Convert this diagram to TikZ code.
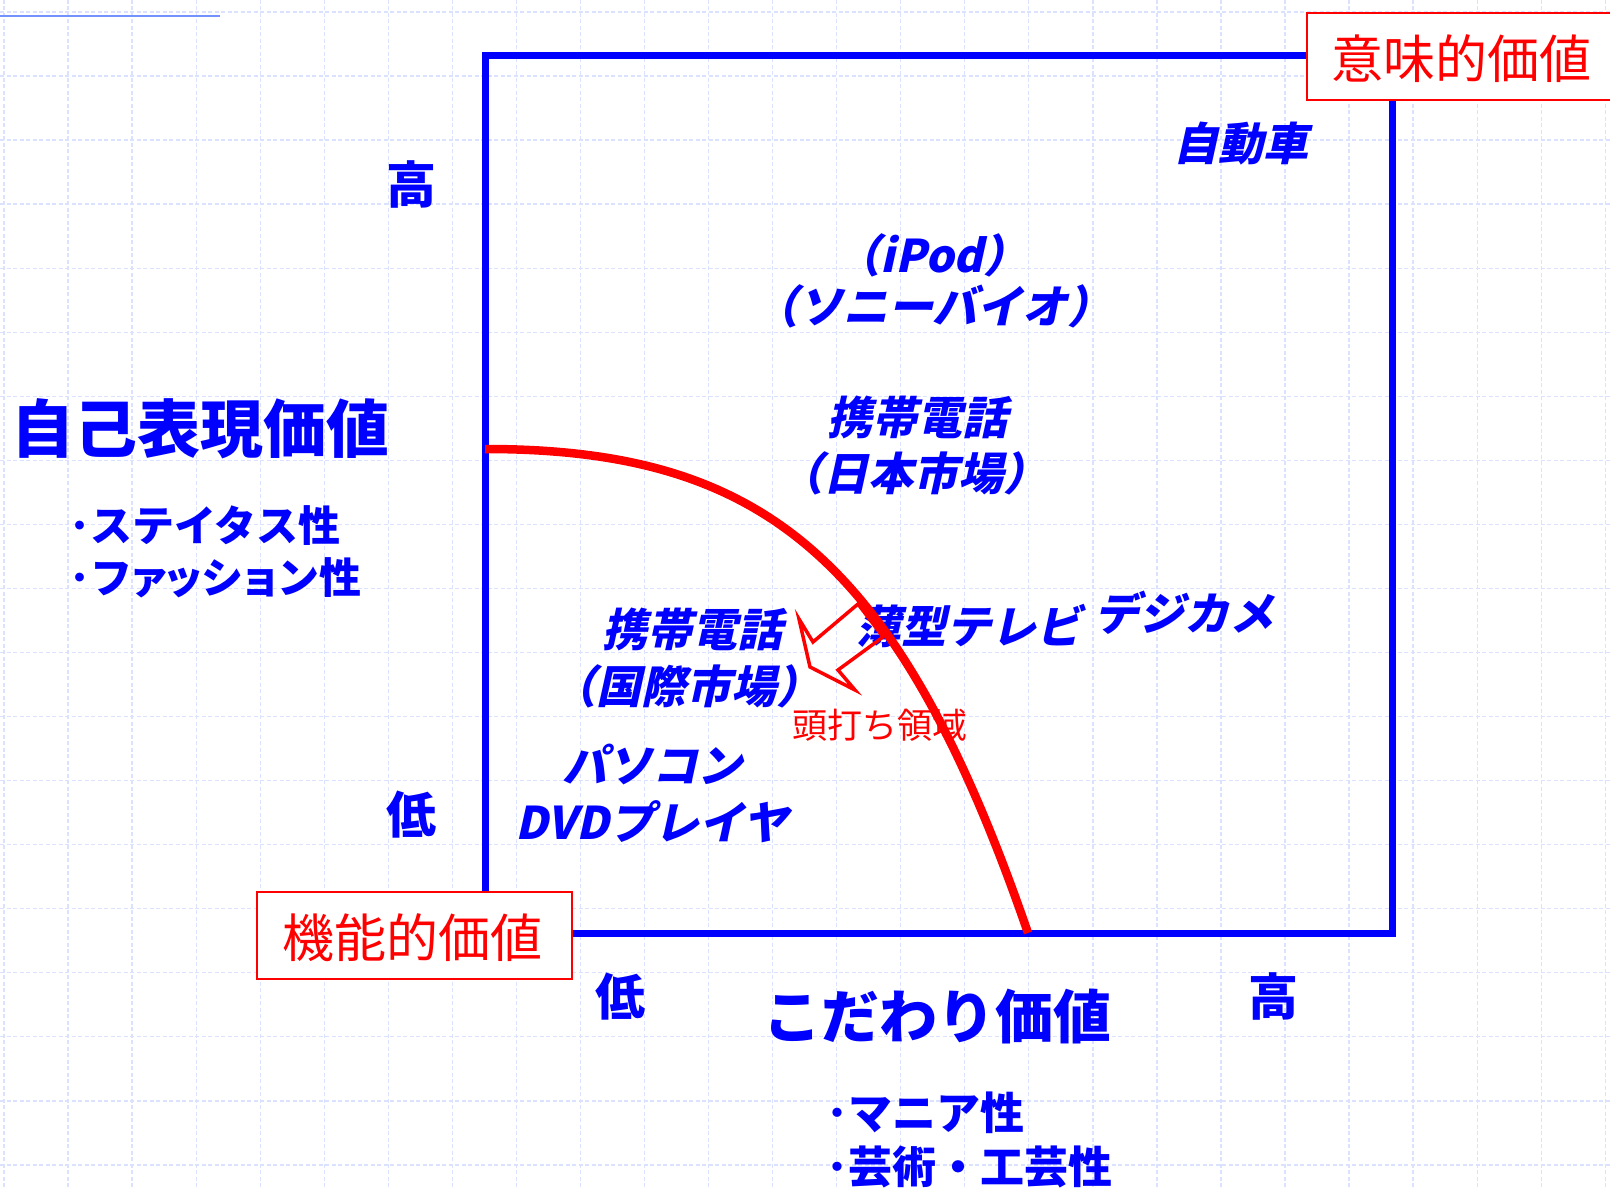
\documentclass[tikz,border=0pt]{standalone}
\usepackage{fontspec}
\newfontfamily\jp{Noto Sans CJK JP}
\newfontfamily\jpit{Noto Sans CJK JP}[FakeSlant=0.22]
\newcommand\smallkana[1]{{\addfontfeature{RawFeature=+palt}#1}}
\definecolor{pblue}{RGB}{0,0,255}
\definecolor{pred}{RGB}{255,0,0}
\definecolor{gridc}{RGB}{218,226,255}
\definecolor{topline}{RGB}{115,145,255}
\begin{document}
\begin{tikzpicture}[x=1pt,y=-1pt,
  gridline/.style={gridc, line width=1.3pt, dash pattern=on 4pt off 2.5pt},
  frameline/.style={pblue, line width=7pt},
  ceiling/.style={pred, line width=8.5pt},
  hollowarrow/.style={pred, line width=3.5pt, line join=miter},
  redbox/.style={draw=pred, fill=white, line width=2pt, inner sep=0pt, outer sep=0pt},
  redlab/.style={text=pred, inner sep=0pt, anchor=base, font=\jp\fontsize{52}{62}\selectfont},
  smallred/.style={text=pred, inner sep=0pt, anchor=base, font=\jp\fontsize{35}{42}\selectfont},
  axislab/.style={text=pblue, inner sep=0pt, anchor=base, font=\jp\bfseries\fontsize{50}{60}\selectfont},
  bigtitle/.style={text=pblue, inner sep=0pt, anchor=base, font=\jp\bfseries\fontsize{#1}{#1}\selectfont},
  bullet/.style={text=pblue, inner sep=0pt, anchor=base west, font=\jp\bfseries\fontsize{#1}{#1}\selectfont},
  itlab/.style={text=pblue, inner sep=0pt, anchor=base, font=\jpit\bfseries\fontsize{45}{54}\selectfont},
]
\path[use as bounding box] (0,0) rectangle (1610,1190);
\clip (0,0) rectangle (1610,1190);
% grid
\foreach \k in {0,...,25} \draw[gridline] ({4+64.05*\k},0) -- ({4+64.05*\k},1190);
\foreach \k in {0,...,18} \draw[gridline] (0,{12+64.05*\k}) -- (1610,{12+64.05*\k});
% top-left line
\coordinate (tl0) at (0,16);
\coordinate (tl1) at (220,16);
\draw[topline, line width=2.5pt] (tl0) -- (tl1);
% frame
\node[frameline, draw, minimum width=907pt, minimum height=877pt, inner sep=0pt, outer sep=0pt] (frame) at (938.5,494.5) {};
% axis labels
\node[axislab] (yhigh) at (411,204) {高};
\node[axislab] (ylow) at (411,833) {低};
\node[axislab] (xlow) at (620,1015) {低};
\node[axislab] (xhigh) at (1273,1015) {高};
\node[bigtitle=63] (ytitle) at (201,452) {自己表現価値};
\node[bullet=42] (yb1) at (69,541) {･ステイタス性};
\node[bullet=42] (yb2) at (69,593) {･フ\smallkana{ァッ}シ\smallkana{ョ}ン性};
\node[bigtitle=58] (xtitle) at (937,1038) {こだわり価値};
\node[bullet=44] (xb1) at (826,1129) {･マニア性};
\node[bullet=44] (xb2) at (826,1183) {･芸術・工芸性};
% items
\node[itlab] (car) at (1241,161) {自動車};
\node[itlab] (ipod) at (932,273) {（iPod）};
\node[itlab] (vaio) at (933,324) {（ソニーバイオ）};
\node[itlab] (jp1) at (917,434) {携帯電話};
\node[itlab] (jp2) at (913,490) {（日本市場）};
\node[itlab] (int1) at (692,646) {携帯電話};
\node[itlab] (int2) at (686,703) {（国際市場）};
\node[itlab] (pc) at (652,782) {パソコン};
\node[itlab] (dvd) at (652,839) {DVDプレイヤ};
\node[itlab] (tv) at (969,643) {薄型テレビ};
\node[itlab] (cam) at (1184,630) {デジカメ};
\node[smallred] (plateau) at (880,738) {頭打ち領域};
% ceiling curve
\coordinate (cstart) at (485,449);
\coordinate (cend) at (1028,933);
\draw[ceiling] (cstart) .. controls (765,449) and (899,559) .. (cend);
% hollow arrow
\draw[hollowarrow] (858,604) -- (883,637) -- (838,670) -- (855,690) -- (810,667) -- (799,619) -- (813,642) -- cycle;
% red boxes
\node[redbox, minimum width=307pt, minimum height=87pt] (meaningbox) at (1460.5,56.5) {};
\node[redlab] (meaning) at (1461,79) {意味的価値};
\node[redbox, minimum width=315pt, minimum height=87pt] (funcbox) at (414.5,935.5) {};
\node[redlab] (func) at (412,957) {機能的価値};
\end{tikzpicture}
\end{document}
